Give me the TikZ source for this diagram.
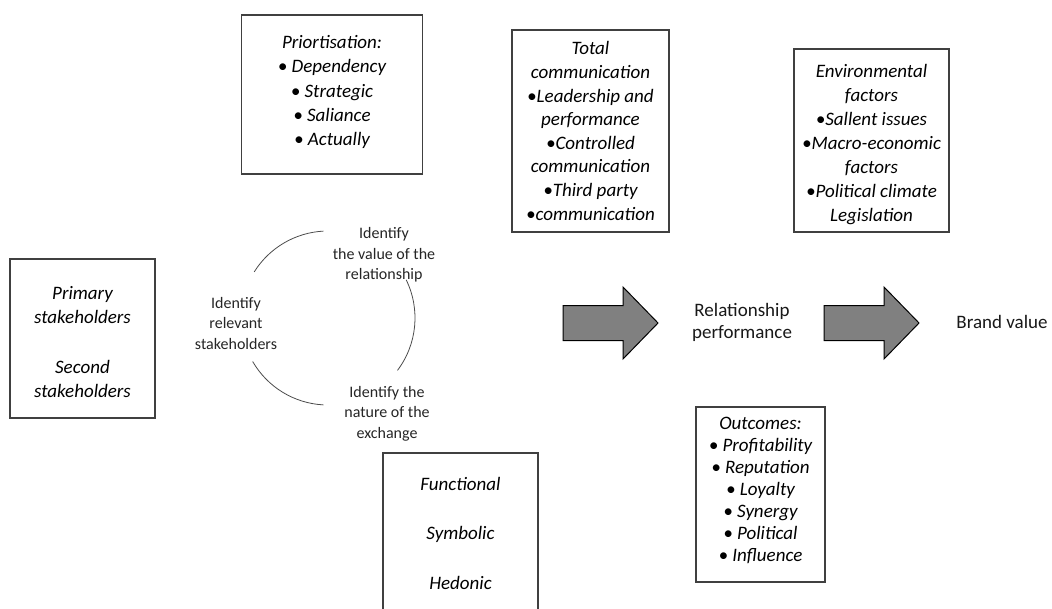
\documentclass[tikz,border=0pt]{standalone}
\usepackage{fontspec}
\setmainfont{Carlito}
\begin{document}
\begin{tikzpicture}[x=1pt,y=-1pt,
  box/.style={draw=black!75,line width=1.2pt,inner sep=0pt},
  boxtext/.style={align=center,inner sep=0pt,
    font=\fontsize{19}{#1}\selectfont\itshape},
  boxtext/.default=24,
  plain/.style={align=center,inner sep=0pt,text=black!90,
    font=\fontsize{19}{22}\selectfont},
  small/.style={align=center,inner sep=0pt,text=black!85,
    font=\fontsize{16}{20.5}\selectfont},
  ring/.style={draw=black!70,line width=0.8pt},
  fatarrow/.style={draw=black,fill=black!50,line width=1pt,line join=miter}]
\clip (0,0) rectangle (1052,608);
\fill[white] (0,0) rectangle (1052,608);

% boxes with their lists
\node[box,minimum width=181,minimum height=159] (prio) at (332,94.5) {};
\node[boxtext=24.3] (priotext) at (332,92) {Priortisation:\\• Dependency\\• Strategic\\• Saliance\\• Actually};

\node[box,minimum width=157,minimum height=202] (comm) at (590.5,131) {};
\node[boxtext=23.6] (commtext) at (590.5,131) {Total\\communication\\•Leadership and\\performance\\•Controlled\\communication\\•Third party\\•communication};

\node[box,minimum width=155,minimum height=183] (env) at (871.5,140.5) {};
\node[boxtext=24] (envtext) at (871.5,145) {Environmental\\factors\\•Sallent issues\\•Macro-economic\\factors\\•Political climate\\Legislation};

\node[box,minimum width=145,minimum height=159] (stake) at (82.5,338.5) {};
\node[boxtext=24] (staketext) at (82.5,342.5) {Primary\\stakeholders\\[26pt]Second\\stakeholders};

\node[box,minimum width=155,minimum height=187] (func) at (460.5,546.5) {};
\node[boxtext=49.5] (functext) at (460.5,533) {Functional\\Symbolic\\Hedonic};

\node[box,minimum width=129,minimum height=175] (out) at (760.5,494.5) {};
\node[boxtext=22] (outtext) at (760.5,490.5) {Outcomes:\\• Profitability\\• Reputation\\• Loyalty\\• Synergy\\• Political\\• Influence};

% cycle of identification steps
\coordinate (ctr) at (328,318);
\draw[ring] (ctr) ++(-93:87) arc[start angle=-93,end angle=-148,radius=87];
\draw[ring] (ctr) ++(-26:87) arc[start angle=-26,end angle=37,radius=87];
\draw[ring] (ctr) ++(-210:87) arc[start angle=-210,end angle=-267,radius=87];
\node[small] (valrel) at (384,255) {Identify\\the value of the\\relationship};
\node[small] (relstk) at (236,323) {Identify\\relevant\\stakeholders};
\node[small] (natex) at (387,413.5) {Identify the\\nature of the\\exchange};

% block arrows
\coordinate (a1) at (563,323);
\coordinate (a2) at (824,323);
\foreach \p in {a1,a2}
  \draw[fatarrow] (\p) ++(0,-17.5) -- ++(60,0) -- ++(0,-18.5) -- ++(35,36)
    -- ++(-35,36) -- ++(0,-18.5) -- ++(-60,0) -- cycle;

\node[plain] (perf) at (742,322.5) {Relationship\\performance};
\node[plain] (brand) at (1002,322) {Brand value};
\end{tikzpicture}
\end{document}
